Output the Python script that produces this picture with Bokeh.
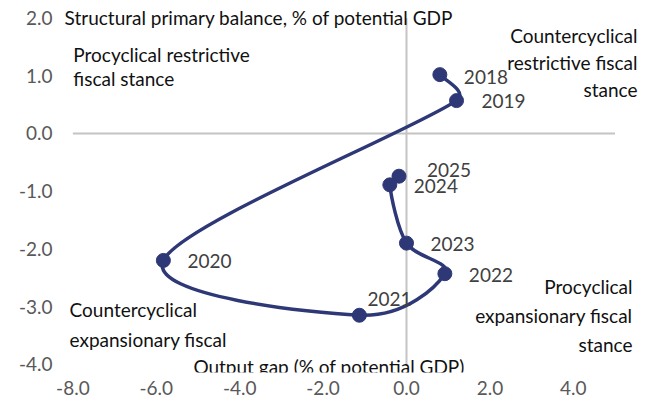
import numpy as np
from bokeh.plotting import figure
from bokeh.models import ColumnDataSource, FixedTicker, NumeralTickFormatter
from bokeh.core.properties import value
from bokeh.embed import file_html
from bokeh.resources import INLINE

# ---- data ----
years = ["2018", "2019", "2020", "2021", "2022", "2023", "2024", "2025"]
output_gap = [0.80, 1.20, -5.83, -1.13, 0.92, 0.00, -0.40, -0.18]
structural_balance = [1.02, 0.57, -2.20, -3.15, -2.43, -1.90, -0.89, -0.74]

x_ticks = [-8, -6, -4, -2, 0, 2, 4]
y_ticks = [-4, -3, -2, -1, 0, 1, 2]
x_axis_min, x_axis_max = -8.0, 5.0
y_axis_min, y_axis_max = -4.0, 2.0

# label offsets (screen px) - styling only
lab_dx = [24, 25, 24, 8, 24, 24, 24, 28]
lab_dy = [2, 0, 1, -16, 1, 1, 1, -6]

FONT = "Lato"
FS = "19px"
NAVY = "#2E3876"

# ---- figure ----
p = figure(width=659, height=399, output_backend="svg", toolbar_location=None,
           x_range=(-8.297, 5.971), y_range=(-4.142, 2.270),
           min_border_left=60, min_border_right=4, min_border_top=2, min_border_bottom=27)
p.outline_line_color = None
p.xgrid.visible = False
p.ygrid.visible = False
p.background_fill_color = "white"
p.border_fill_color = "white"

for ax in (p.xaxis[0], p.yaxis[0]):
    ax.axis_line_color = None
    ax.major_tick_line_color = None
    ax.minor_tick_line_color = None
    ax.major_label_text_font = FONT
    ax.major_label_text_font_size = FS
    ax.major_label_text_color = "#595959"
    ax.formatter = NumeralTickFormatter(format="0.0")
    ax.major_tick_out = 0
    ax.major_tick_in = 0
p.xaxis[0].ticker = FixedTicker(ticks=x_ticks)
p.yaxis[0].ticker = FixedTicker(ticks=y_ticks)
p.xaxis[0].major_label_standoff = 8
p.yaxis[0].major_label_standoff = 8

# zero lines
p.line([x_axis_min, x_axis_max], [0, 0], line_color="#C4C4C4", line_width=2)
p.line([0, 0], [y_axis_min, y_axis_max], line_color="#C4C4C4", line_width=2)

# ---- smoothed line via bezier segments (Excel-like smoothing) ----
aspect = 57.7 / 41.7  # screen y-units per x-unit ratio
P = np.column_stack([np.array(output_gap), np.array(structural_balance) * aspect])
n = len(P)
cols = {k: [] for k in ("x0", "y0", "x1", "y1", "cx0", "cy0", "cx1", "cy1")}

def tvec(i):
    a = P[max(i - 1, 0)]
    b = P[min(i + 1, n - 1)]
    return (b - a) / 6.0

def clamp(v, limit):
    L = np.hypot(*v)
    return v * (limit / L) if L > limit and L > 0 else v

for i in range(n - 1):
    a, b = P[i], P[i + 1]
    d = np.hypot(*(b - a))
    c0 = a + clamp(tvec(i), d * 0.5)
    c1 = b - clamp(tvec(i + 1), d * 0.5)
    cols["x0"].append(a[0]); cols["y0"].append(a[1] / aspect)
    cols["x1"].append(b[0]); cols["y1"].append(b[1] / aspect)
    cols["cx0"].append(c0[0]); cols["cy0"].append(c0[1] / aspect)
    cols["cx1"].append(c1[0]); cols["cy1"].append(c1[1] / aspect)
bez = ColumnDataSource(cols)
p.bezier(x0="x0", y0="y0", x1="x1", y1="y1", cx0="cx0", cy0="cy0", cx1="cx1", cy1="cy1",
         source=bez, line_color=NAVY, line_width=3.5)

src = ColumnDataSource(dict(x=output_gap, y=structural_balance, year=years, dx=lab_dx, dy=lab_dy))
p.scatter("x", "y", source=src, size=14, fill_color=NAVY, line_color=NAVY)
p.text("x", "y", text="year", source=src, x_offset="dx", y_offset="dy",
       text_font=value(FONT), text_font_size=FS, text_color="#404040",
       text_baseline="middle", text_align="left")

# ---- annotations ----
def note(x, y, txt, align="left", lh=1.2, color="#111111"):
    p.text([x], [y], text=[txt], text_font=value(FONT), text_font_size=FS,
           text_color=color, text_align=align, text_baseline="middle", text_line_height=lh)

note(-8.20, 2.01, "Structural primary balance, % of potential GDP")
note(-7.99, 1.16, "Procyclical restrictive\nfiscal stance", lh=1.07)
note(5.54, 1.23, "Countercyclical\nrestrictive fiscal\nstance", align="right", lh=1.18)
note(-8.08, -3.31, "Countercyclical\nexpansionary fiscal", lh=1.27)
note(5.42, -3.15, "Procyclical\nexpansionary fiscal\nstance", align="right", lh=1.25)
note(-5.11, -4.04, "Output gap (% of potential GDP)")

open("out.html", "w").write(file_html(p, INLINE))
